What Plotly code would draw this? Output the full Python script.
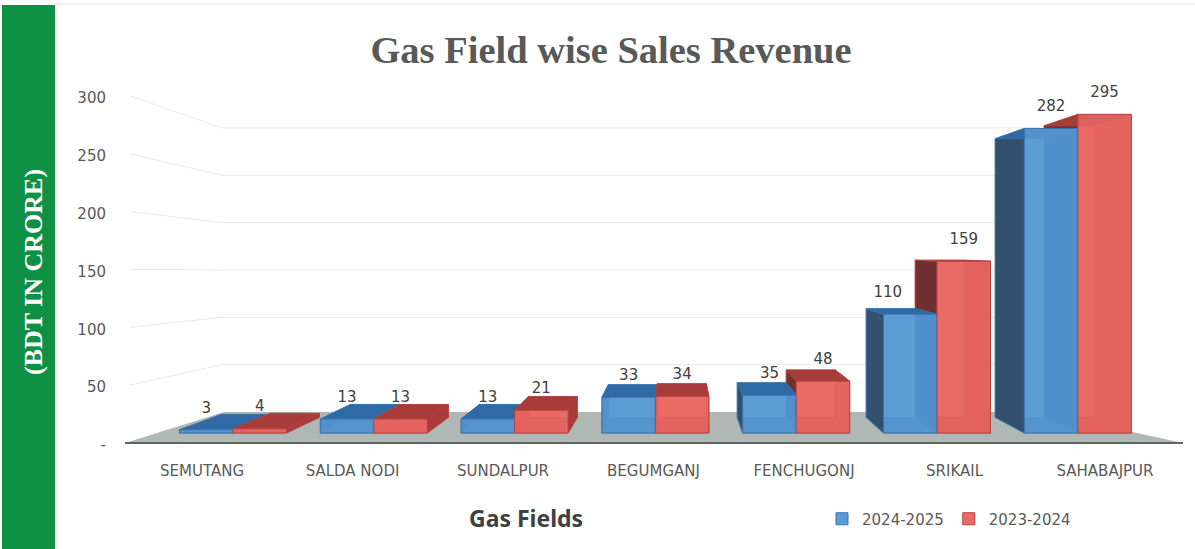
import plotly.graph_objects as go

categories = ["SEMUTANG", "SALDA NODI", "SUNDALPUR", "BEGUMGANJ", "FENCHUGONJ", "SRIKAIL", "SAHABAJPUR"]
revenue_2024_25 = [3, 13, 13, 33, 35, 110, 282]
revenue_2023_24 = [4, 13, 21, 34, 48, 159, 295]
series_names = ["2024-2025", "2023-2024"]
y_ticks = [0, 50, 100, 150, 200, 250, 300]
y_tick_text = ["-", "50", "100", "150", "200", "250", "300"]

W, H = 1195, 549
X0, XS = 233.0, 140.8     # px of first group centre and px per group
Y0, YS = 433.0, 1.08      # px of value 0 on the front plane and px per unit
BW = 0.38
VX, SX = (678 - X0) / XS, 0.916   # perspective in x


def ux(px):
    return (px - X0) / XS


def uy(py):
    return (Y0 - py) / YS


def back_x(x):
    return VX + (x - VX) * SX


def back_v(v):
    return 14.5 + 0.915 * v


X_RANGE = [ux(0), ux(W)]
Y_RANGE = [uy(H), uy(0)]

STYLE = {
    0: dict(front="#5b9bd5", back="#6aa8de", top="#2f6aa6", outer="#33506f", inner="#2a68a8", edge="#3b73ab", base="#3f7ab8"),
    1: dict(front="#ea6a66", back="#ec6c68", top="#a83c3a", outer="#70302f", inner="#d04845", edge="#b5423f", base="#d04a47"),
}

fig = go.Figure()


def poly(xs, ys, fill, line=None, width=0.8):
    fig.add_trace(go.Scatter(
        x=xs + xs[:1], y=ys + ys[:1], mode="lines", fill="toself", fillcolor=fill,
        line=dict(color=line or fill, width=width), showlegend=False, hoverinfo="skip"))


# floor
poly([ux(125), ux(1183), ux(1040), ux(224)], [uy(443), uy(443), uy(412), uy(412)], "#b0b8b5", width=0)

# walls: gridlines from the value scale
for v in y_ticks[1:]:
    wall_py = 443 - 1.157 * v
    back_py = 412 - 0.947 * v
    fig.add_trace(go.Scatter(
        x=[ux(130), ux(222), ux(1040)], y=[uy(wall_py), uy(back_py), uy(back_py)],
        mode="lines", line=dict(color="#e8e8e8", width=1), showlegend=False, hoverinfo="skip"))

# floor front edge
fig.add_trace(go.Scatter(x=[ux(125), ux(1183)], y=[uy(443), uy(443)], mode="lines",
                         line=dict(color="#5f6563", width=2.2), showlegend=False, hoverinfo="skip"))


def box(i, series, v):
    st = STYLE[series]
    xl = i - BW if series == 0 else i
    xr = xl + BW
    bxl, bxr = back_x(xl), back_x(xr)
    vb0, vbt = back_v(0), back_v(v)
    poly([xl, xr, bxr, bxl], [0, 0, vb0, vb0], st["base"], st["edge"])
    poly([bxl, bxr, bxr, bxl], [vb0, vb0, vbt, vbt], st["back"], st["edge"])
    centre = (xl + xr) / 2
    left_fill = st["outer"] if centre > VX else st["inner"]
    right_fill = st["outer"] if centre <= VX else st["inner"]
    if series == 1 and centre <= VX:
        right_fill = st["top"]
    poly([xl, bxl, bxl, xl], [0, vb0, vbt, v], left_fill, st["edge"])
    poly([xr, bxr, bxr, xr], [0, vb0, vbt, v], right_fill, st["edge"])
    poly([xl, xr, bxr, bxl], [v, v, vbt, vbt], st["top"], st["edge"])


for i in range(len(categories)):
    order = [0, 1] if i < VX else [1, 0]
    values = {0: revenue_2024_25[i], 1: revenue_2023_24[i]}
    for s in order:
        box(i, s, values[s])

idx = list(range(len(categories)))
for s, vals, off in ((0, revenue_2024_25, -BW), (1, revenue_2023_24, 0)):
    fig.add_trace(go.Bar(
        x=idx, y=vals, width=BW, offset=off, name=series_names[s], xaxis="x2", yaxis="y2",
        marker=dict(color=STYLE[s]["front"], opacity=0.8, line=dict(color=STYLE[s]["edge"], width=1)),
        hoverinfo="name+y"))

LABEL_LIFT = 21 / YS
label_font = dict(family="DejaVu Sans", size=15, color="#404040")
blue_x = [i - BW / 2 for i in idx]
blue_x[5] -= 0.16
fig.add_trace(go.Scatter(x=blue_x, y=[v + LABEL_LIFT for v in revenue_2024_25], mode="text",
                         text=[str(v) for v in revenue_2024_25], textposition="middle center",
                         textfont=label_font, xaxis="x2", yaxis="y2", showlegend=False, hoverinfo="skip"))
fig.add_trace(go.Scatter(x=[i + BW / 2 for i in idx], y=[v + LABEL_LIFT for v in revenue_2023_24], mode="text",
                         text=[str(v) for v in revenue_2023_24], textposition="middle center",
                         textfont=label_font, xaxis="x2", yaxis="y2", showlegend=False, hoverinfo="skip"))

# carriers of the two label axes
fig.add_trace(go.Scatter(x=idx, y=revenue_2024_25, mode="markers", marker=dict(opacity=0),
                         xaxis="x3", yaxis="y3", showlegend=False, hoverinfo="skip"))

tick_font = dict(family="DejaVu Sans", size=15, color="#595959")
hidden = dict(visible=False, showgrid=False, zeroline=False, fixedrange=True)
fig.update_layout(
    width=W, height=H, margin=dict(l=0, r=0, t=0, b=0), autosize=False,
    paper_bgcolor="white", plot_bgcolor="rgba(0,0,0,0)", barmode="overlay",
    xaxis=dict(range=X_RANGE, domain=[0, 1], **hidden),
    yaxis=dict(range=Y_RANGE, domain=[0, 1], **hidden),
    xaxis2=dict(range=X_RANGE, overlaying="x", anchor="y2", **hidden),
    yaxis2=dict(range=Y_RANGE, overlaying="y", anchor="x2", **hidden),
    xaxis3=dict(range=[-202 / 150.5, (W - 202) / 150.5], overlaying="x", anchor="free",
                position=(H - 460) / H, tickvals=idx, ticktext=categories, tickfont=tick_font,
                showgrid=False, zeroline=False, showline=False, ticks="", fixedrange=True, tickangle=0),
    yaxis3=dict(range=[(445 - H) / 1.157, 445 / 1.157], overlaying="y", anchor="free",
                position=106 / W, tickvals=y_ticks, ticktext=y_tick_text, tickfont=tick_font,
                showgrid=False, zeroline=False, showline=False, ticks="", fixedrange=True),
    title=dict(text="<b>Gas Field wise Sales Revenue</b>", x=611 / W, xanchor="center",
               y=1 - 50 / H, yanchor="middle",
               font=dict(family="Liberation Serif", size=38.5, color="#595959")),
    legend=dict(orientation="h", x=822 / W, xanchor="left", y=1 - 519 / H, yanchor="middle",
                font=dict(family="DejaVu Sans", size=15, color="#595959"), bgcolor="rgba(0,0,0,0)",
                itemclick=False, itemdoubleclick=False, tracegroupgap=0),
    shapes=[
        dict(type="rect", xref="paper", yref="paper", x0=2 / W, x1=55 / W, y0=0, y1=1 - 5 / H,
             fillcolor="#0e9145", line=dict(width=0)),
        dict(type="rect", xref="paper", yref="paper", x0=55 / W, x1=1, y0=1 - 5 / H, y1=1 - 3 / H,
             fillcolor="#eeeeee", line=dict(width=0)),
    ],
    annotations=[
        dict(text="<b>(BDT IN CRORE)</b>", xref="paper", yref="paper", x=33 / W, y=1 - 272 / H,
             xanchor="center", yanchor="middle",
             textangle=-90, showarrow=False, font=dict(family="Liberation Serif", size=26, color="white")),
        dict(text="<b>Gas Fields</b>", xref="paper", yref="paper", x=526 / W, y=1 - 518 / H,
             xanchor="center", yanchor="middle",
             showarrow=False, font=dict(family="Noto Sans", size=23, color="#404040")),
    ],
)

fig.write_html("out.html", include_plotlyjs=True,
               post_script="document.body.style.margin='0';document.body.style.overflow='hidden';",
               config=dict(displayModeBar=False))
